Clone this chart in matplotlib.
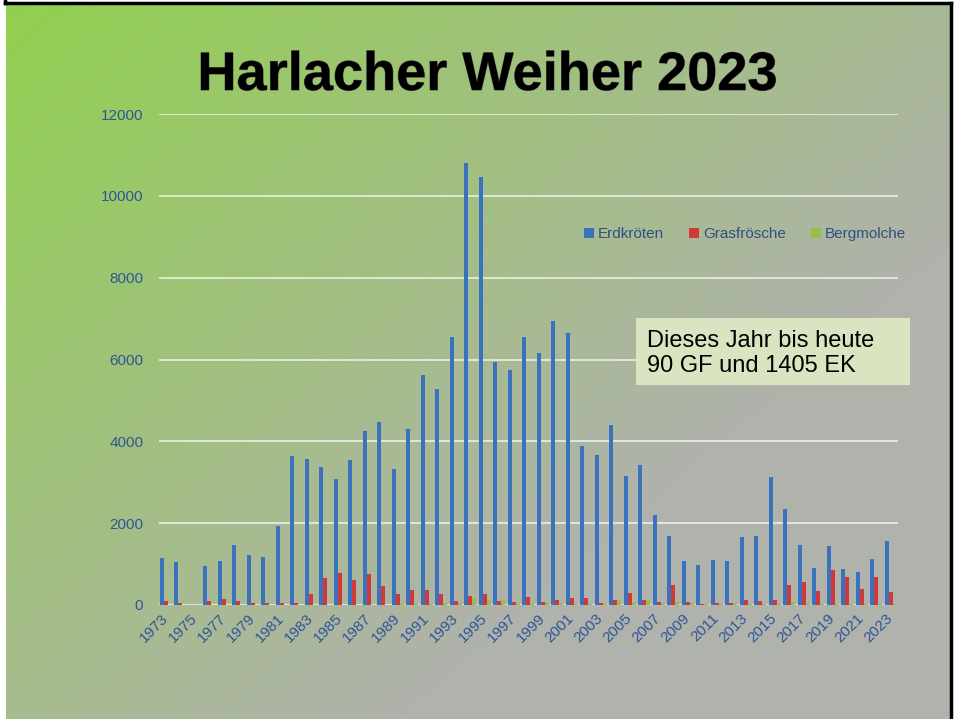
import numpy as np
import matplotlib
matplotlib.use('Agg')
import matplotlib.pyplot as plt
import matplotlib.patheffects as pe
from matplotlib.patches import Patch, Rectangle
from matplotlib.lines import Line2D

plt.rcParams['font.family'] = ['Liberation Sans', 'DejaVu Sans']

# data
years = list(range(1973, 2024))
erdkroeten = [1150, 1050, 0, 950, 1080, 1470, 1220, 1180, 1930, 3650,
              3580, 3380, 3090, 3550, 4260, 4480, 3330, 4290, 5630, 5290,
              6540, 10800, 10460, 5930, 5750, 6540, 6170, 6950, 6640, 3890,
              3670, 4410, 3160, 3430, 2200, 1690, 1080, 980, 1100, 1080,
              1660, 1690, 3140, 2350, 1470, 900, 1445, 880, 810, 1130, 1570]
grasfroesche = [100, 50, 0, 100, 150, 100, 50, 50, 50, 50,
                280, 670, 780, 610, 760, 470, 270, 370, 370, 270,
                100, 220, 270, 100, 80, 200, 80, 120, 160, 175,
                60, 120, 290, 120, 75, 500, 75, 30, 40, 60,
                110, 90, 120, 490, 560, 340, 860, 690, 390, 690, 320]
bergmolche = [0, 0, 0, 0, 0, 0, 0, 0, 0, 0,
              0, 0, 0, 0, 0, 0, 40, 30, 30, 50,
              60, 170, 120, 120, 60, 60, 80, 40, 30, 30,
              30, 120, 80, 120, 50, 80, 40, 20, 20, 60,
              30, 20, 20, 70, 50, 20, 30, 30, 20, 30, 20]
series_names = ['Erdkröten', 'Grasfrösche', 'Bergmolche']
series_colors = ['#3B72BE', '#D0393A', '#98BE48']
title = 'Harlacher Weiher 2023'
note_lines = ['Dieses Jahr bis heute', '90 GF und 1405 EK']

W, H = 955, 719
fig = plt.figure(figsize=(W / 100, H / 100), dpi=100)
fig.patch.set_facecolor('white')

# gradient background (green top-left -> grey)
bg = fig.add_axes([6 / W, 0, 945 / W, 714 / H], zorder=0)
gy, gx = np.mgrid[0:200, 0:300]
t = 0.68 * gx / 300 + 0.6 * gy / 200
w = np.clip(1 - t / 0.88, 0, 1)
green = np.array([146, 208, 80]) / 255
grey = np.array([176, 178, 172]) / 255
img = grey + w[..., None] * (green - grey)
bg.imshow(img, aspect='auto', extent=[0, 1, 0, 1], origin='upper')
bg.axis('off')

# frame
for xs, ys in [([5, 5], [0, 3]), ([5, 951], [3, 3]), ([951, 951], [3, 719])]:
    fig.add_artist(Line2D(np.array(xs) / W, 1 - np.array(ys) / H,
                          transform=fig.transFigure, color='black', lw=2.5, zorder=5))

ax = fig.add_axes([158.5 / W, 114 / H, 739.5 / W, 491 / H], zorder=2)
ax.patch.set_alpha(0)
x = np.arange(len(years))
bw = 0.276
for k, (vals, name, col) in enumerate(zip([erdkroeten, grasfroesche, bergmolche],
                                         series_names, series_colors)):
    ax.bar(x + (k - 1) * bw, vals, width=bw, color=col, label=name, zorder=3)

ax.set_xlim(-0.5, len(years) - 0.5)
ax.set_ylim(0, 12000)
ax.set_yticks(range(0, 12001, 2000))
ax.yaxis.grid(True, color='white', alpha=0.7, lw=1.3, zorder=1)
ax.set_axisbelow(True)
for s in ax.spines.values():
    s.set_visible(False)

lab_col = '#2F5597'
ax.tick_params(axis='y', length=0, pad=11, labelsize=11, labelcolor=lab_col)
ax.set_xticks(x[::2])
ax.set_xticklabels([str(y) for y in years[::2]], rotation=45, ha='right',
                   va='center', rotation_mode='anchor')
ax.tick_params(axis='x', length=0, pad=8, labelsize=11, labelcolor=lab_col)

handles = [Patch(facecolor=c, label=n) for n, c in zip(series_names, series_colors)]
fig.legend(handles=handles, loc='center', bbox_to_anchor=(745 / W, 1 - 234 / H),
           ncol=3, frameon=False, fontsize=11, labelcolor='#2F4F80',
           handlelength=0.65, handleheight=0.65, handletextpad=0.3, columnspacing=1.6)

fig.text(487 / W, 1 - 76 / H, title, ha='center', va='center',
         fontsize=39, fontweight='bold', color='black', zorder=6,
         path_effects=[pe.withStroke(linewidth=0.7, foreground='#555555')])

# note box
fig.add_artist(Rectangle((636 / W, 1 - 385 / H), 274 / W, 67 / H,
                         transform=fig.transFigure, facecolor='#DAE4C0',
                         edgecolor='none', zorder=6))
fig.text(647 / W, 1 - 347 / H, note_lines[0], ha='left', va='baseline',
         fontsize=17, color='black', zorder=7)
fig.text(647 / W, 1 - 372 / H, note_lines[1], ha='left', va='baseline',
         fontsize=17, color='black', zorder=7)

fig.savefig('out.png', dpi=100)
